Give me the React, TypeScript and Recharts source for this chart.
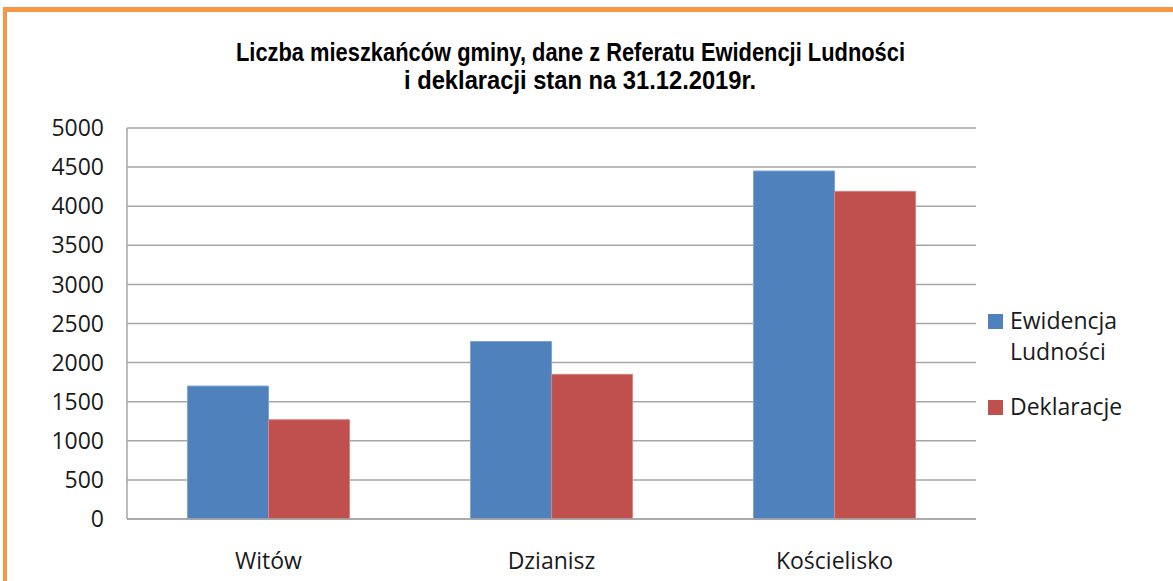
import { BarChart, Bar, XAxis, YAxis, CartesianGrid } from 'recharts'

const categories = ['Witów', 'Dzianisz', 'Kościelisko']
const ewidencja = [1700, 2270, 4450]
const deklaracje = [1270, 1850, 4190]
const yTicks = [0, 500, 1000, 1500, 2000, 2500, 3000, 3500, 4000, 4500, 5000]

const titleLines = ['Liczba mieszkańców gminy, dane z Referatu Ewidencji Ludności', 'i deklaracji stan na 31.12.2019r.']

const data = categories.map((name, i) => ({ name, ewidencja: ewidencja[i], deklaracje: deklaracje[i] }))

const font = "'Open Sans', 'Liberation Sans', sans-serif"

function LegendBox() {
  const item = (color: string, lines: string[]) => (
    <div style={{ display: 'flex', alignItems: 'flex-start', marginBottom: 24 }}>
      <div style={{ width: 15, height: 15, background: color, marginTop: 9, marginRight: 7, flexShrink: 0 }} />
      <div style={{ fontSize: 23, lineHeight: '31px', color: '#1a1a1a', fontFamily: font }}>
        {lines.map((l) => (
          <div key={l}>{l}</div>
        ))}
      </div>
    </div>
  )
  return (
    <div style={{ position: 'absolute', left: 988, top: 305 }}>
      {item('#4F81BD', ['Ewidencja', 'Ludności'])}
      {item('#C0504D', ['Deklaracje'])}
    </div>
  )
}

export default function App() {
  return (
    <div style={{ position: 'absolute', left: 0, top: 0, width: 1173, height: 581, background: '#fff', overflow: 'hidden' }}>
      <div
        style={{
          position: 'absolute',
          left: 3,
          top: 7,
          width: 1250,
          height: 650,
          borderTop: '5px solid #F79646',
          borderLeft: '4px solid #F79646',
        }}
      />
      <svg width={1173} height={110} style={{ position: 'absolute', left: 0, top: 0 }}>
        <text
          x={236}
          y={61}
          textLength={669}
          lengthAdjust="spacingAndGlyphs"
          fontFamily="'Liberation Sans', Arial, sans-serif"
          fontWeight="bold"
          fontSize={26}
          fill="#000"
        >
          {titleLines[0]}
        </text>
        <text
          x={404}
          y={89}
          textLength={352}
          lengthAdjust="spacingAndGlyphs"
          fontFamily="'Liberation Sans', Arial, sans-serif"
          fontWeight="bold"
          fontSize={26}
          fill="#000"
        >
          {titleLines[1]}
        </text>
      </svg>
      <div style={{ position: 'absolute', left: 0, top: 0 }}>
        <BarChart
          width={1173}
          height={581}
          data={data}
          margin={{ top: 128, right: 197, bottom: 0, left: 27 }}
          barCategoryGap="21.4%"
          barGap={0}
        >
          <CartesianGrid vertical={false} stroke="#a6a6a6" strokeWidth={1.5} />
          <XAxis
            dataKey="name"
            height={62}
            axisLine={{ stroke: '#a6a6a6', strokeWidth: 1.5 }}
            tickLine={false}
            tickMargin={28}
            tick={{ fontSize: 23, fill: '#1a1a1a', fontFamily: font }}
          />
          <YAxis
            width={100}
            domain={[0, 5000]}
            ticks={yTicks}
            interval={0}
            axisLine={{ stroke: '#a6a6a6', strokeWidth: 1.5 }}
            tickLine={false}
            tickMargin={17}
            tick={{ fontSize: 23, fill: '#1a1a1a', fontFamily: font }}
          />
          <Bar dataKey="ewidencja" name="Ewidencja Ludności" fill="#4F81BD" stroke="#7FA3D1" strokeWidth={1} isAnimationActive={false} />
          <Bar dataKey="deklaracje" name="Deklaracje" fill="#C0504D" stroke="#D48583" strokeWidth={1} isAnimationActive={false} />
        </BarChart>
      </div>
      <LegendBox />
    </div>
  )
}
